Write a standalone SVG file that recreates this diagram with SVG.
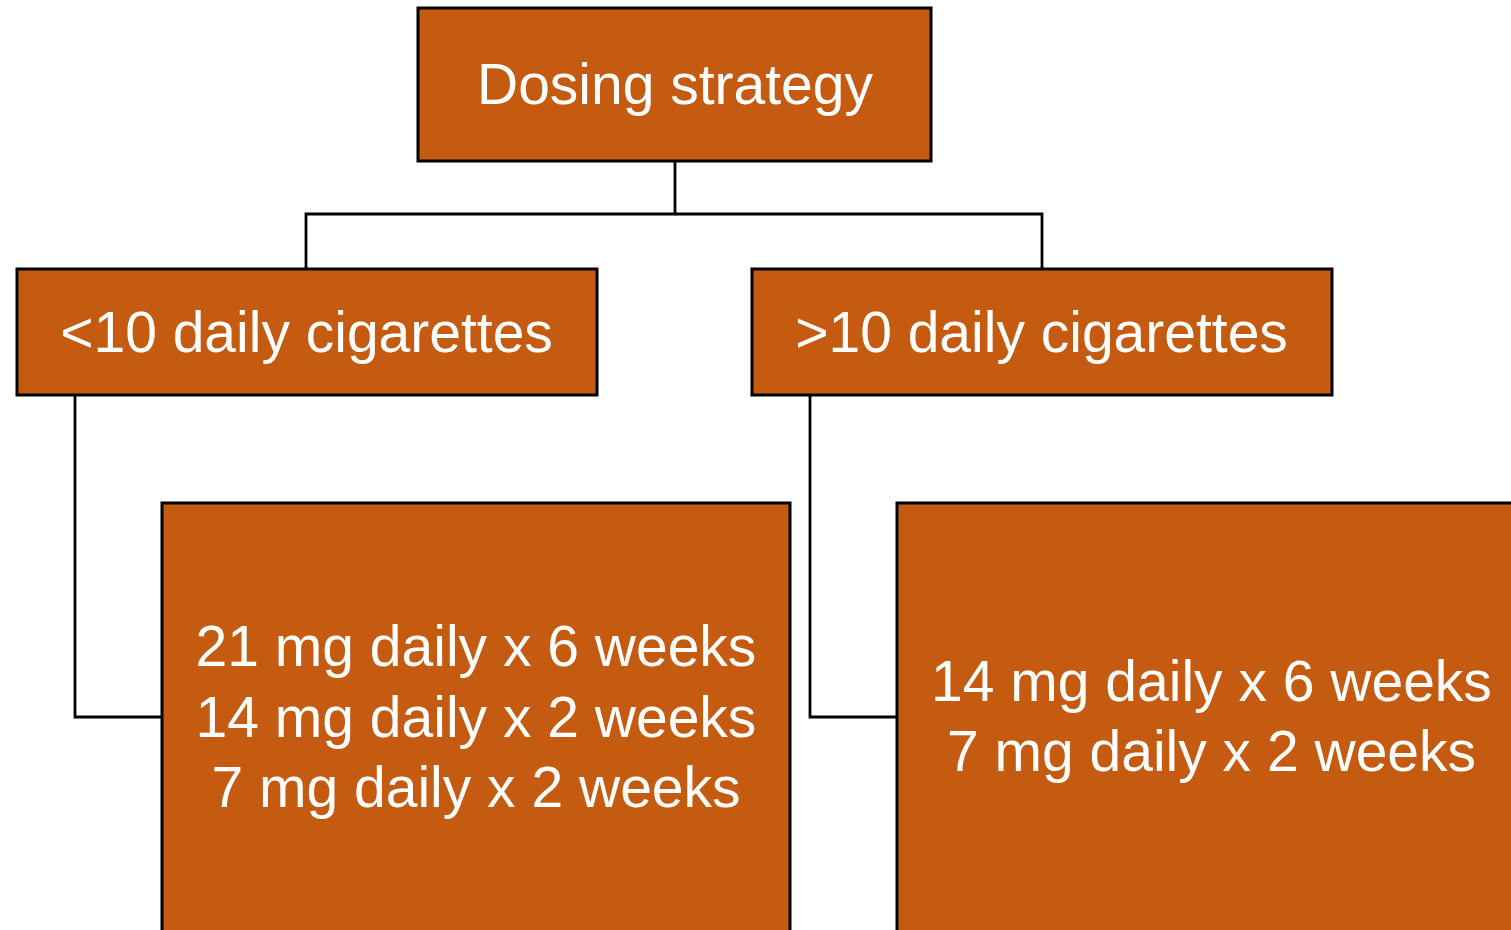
<svg xmlns="http://www.w3.org/2000/svg" width="1511" height="930" viewBox="0 0 1511 930">
<style>
.box{fill:#C55A11;stroke:#000;stroke-width:3}
.lbl{font-family:"Liberation Sans",Arial,sans-serif;font-size:57px;fill:#fff;text-anchor:middle}
.conn{fill:none;stroke:#000;stroke-width:2.8}
</style>
<rect width="1511" height="930" fill="#fff"/>
<g id="connectors">
<polyline class="conn" points="675,161 675,214 306,214 306,269"/>
<polyline class="conn" points="675,214 1042,214 1042,269"/>
<polyline class="conn" points="75,395 75,717 162,717"/>
<polyline class="conn" points="810,395 810,717 897,717"/>
</g>
<g id="dosing">
<rect class="box" x="418" y="8" width="513" height="153"/>
<text class="lbl" x="675" y="104">Dosing strategy</text>
</g>
<g id="less10">
<rect class="box" x="17" y="269" width="580" height="126"/>
<text class="lbl" x="306.5" y="352">&lt;10 daily cigarettes</text>
</g>
<g id="more10">
<rect class="box" x="752" y="269" width="580" height="126"/>
<text class="lbl" x="1041.5" y="352">&gt;10 daily cigarettes</text>
</g>
<g id="plan-less10">
<rect class="box" x="162" y="503" width="628" height="440"/>
<text class="lbl" x="476" y="666">21 mg daily x 6 weeks</text>
<text class="lbl" x="476" y="737">14 mg daily x 2 weeks</text>
<text class="lbl" x="476" y="807">7 mg daily x 2 weeks</text>
</g>
<g id="plan-more10">
<rect class="box" x="897" y="503" width="640" height="440"/>
<text class="lbl" x="1211.5" y="701">14 mg daily x 6 weeks</text>
<text class="lbl" x="1211.5" y="771">7 mg daily x 2 weeks</text>
</g>
</svg>
